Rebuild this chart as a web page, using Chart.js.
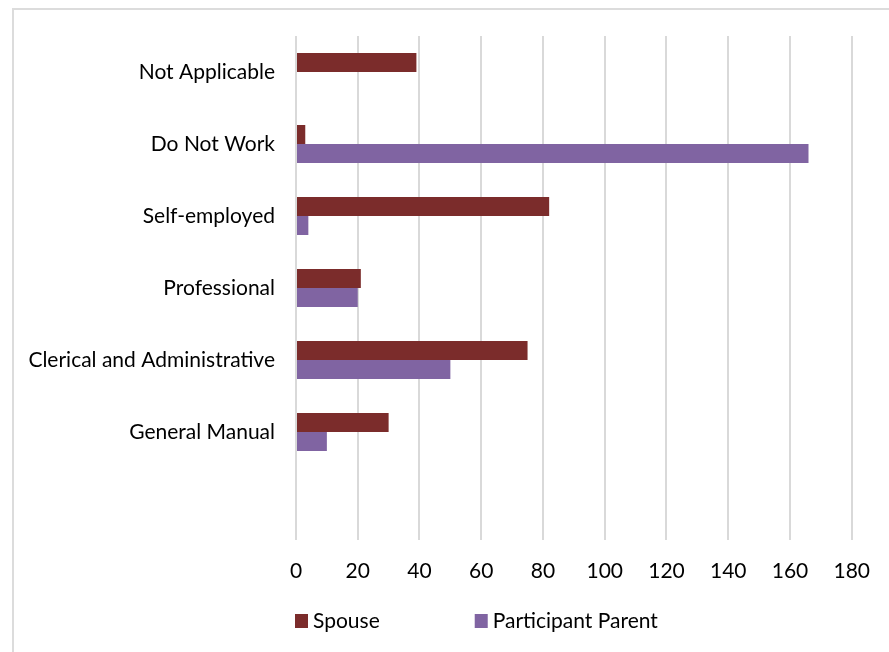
<!DOCTYPE html>
<html>
<head>
<meta charset="utf-8">
<script src="https://cdn.jsdelivr.net/npm/chart.js@4"></script>
<style>
  html, body { margin: 0; padding: 0; background: #fff; }
  body { width: 889px; height: 652px; overflow: hidden; position: relative; }
  /* light frame round the chart, it runs off the right and bottom edge */
  #frame { position: absolute; left: 12px; top: 8px; width: 1000px; height: 800px; border: 2px solid #dcdcdc; box-sizing: border-box; }
  #wrap { position: absolute; left: 0; top: 0; width: 889px; height: 652px; }
</style>
</head>
<body>
<div id="frame"></div>
<div id="wrap"><canvas id="chart"></canvas></div>
<script>
// categories top to bottom, the last slot is empty on purpose
const jobs = ["Not Applicable", "Do Not Work", "Self-employed", "Professional", "Clerical and Administrative", "General Manual", ""];

// counts for each group
const spouse = [39, 3, 82, 21, 75, 30, null];
const participantParent = [null, 166, 4, 20, 50, 10, null];

// x axis ticks
const xTicks = [0, 20, 40, 60, 80, 100, 120, 140, 160, 180];

const fontName = "Lato, 'Liberation Sans', sans-serif";
const fontSize = 21;

// legend drawn by hand so the gap between the two entries can be set
const bottomLegend = {
  id: 'bottomLegend',
  afterDraw(chart) {
    const ctx = chart.ctx;
    const area = chart.chartArea;
    let x = area.left - 1;
    const y = area.bottom + 81;
    ctx.save();
    ctx.font = fontSize + 'px ' + fontName;
    ctx.textBaseline = 'middle';
    ctx.textAlign = 'left';
    chart.data.datasets.forEach(ds => {
      ctx.fillStyle = ds.backgroundColor;
      ctx.fillRect(x, y - 7, 13, 14);
      ctx.fillStyle = '#000';
      ctx.fillText(ds.label, x + 18, y);
      x += 18 + ctx.measureText(ds.label).width + 95;
    });
    ctx.restore();
  }
};

function chartMake() {
  const ctx = document.getElementById('chart');

  new Chart(ctx, {
    type: 'bar',
    data: {
      labels: jobs,
      datasets: [
        { label: 'Spouse', data: spouse, backgroundColor: '#7b2c2b' },
        { label: 'Participant Parent', data: participantParent, backgroundColor: '#8064a2' }
      ]
    },
    options: {
      indexAxis: 'y',
      responsive: true,
      maintainAspectRatio: false,
      animation: false,
      categoryPercentage: 0.53,
      barPercentage: 1,
      layout: { padding: { left: 0, right: 26, top: 36, bottom: 50 } },
      scales: {
        x: {
          min: xTicks[0],
          max: xTicks[xTicks.length - 1],
          border: { display: false },
          grid: { color: '#d9d9d9', lineWidth: 2, drawTicks: false },
          ticks: {
            stepSize: 20,
            padding: 19,
            color: '#000',
            font: { family: fontName, size: fontSize }
          },
          afterFit: s => { s.height = 62; }
        },
        y: {
          border: { display: false },
          grid: { display: false, drawTicks: false },
          ticks: {
            padding: 21,
            color: '#000',
            font: { family: fontName, size: fontSize }
          },
          afterFit: s => { s.width = 296; }
        }
      },
      plugins: {
        legend: { display: false },
        tooltip: { enabled: false }
      }
    },
    plugins: [bottomLegend]
  });
}

chartMake();
</script>
</body>
</html>
